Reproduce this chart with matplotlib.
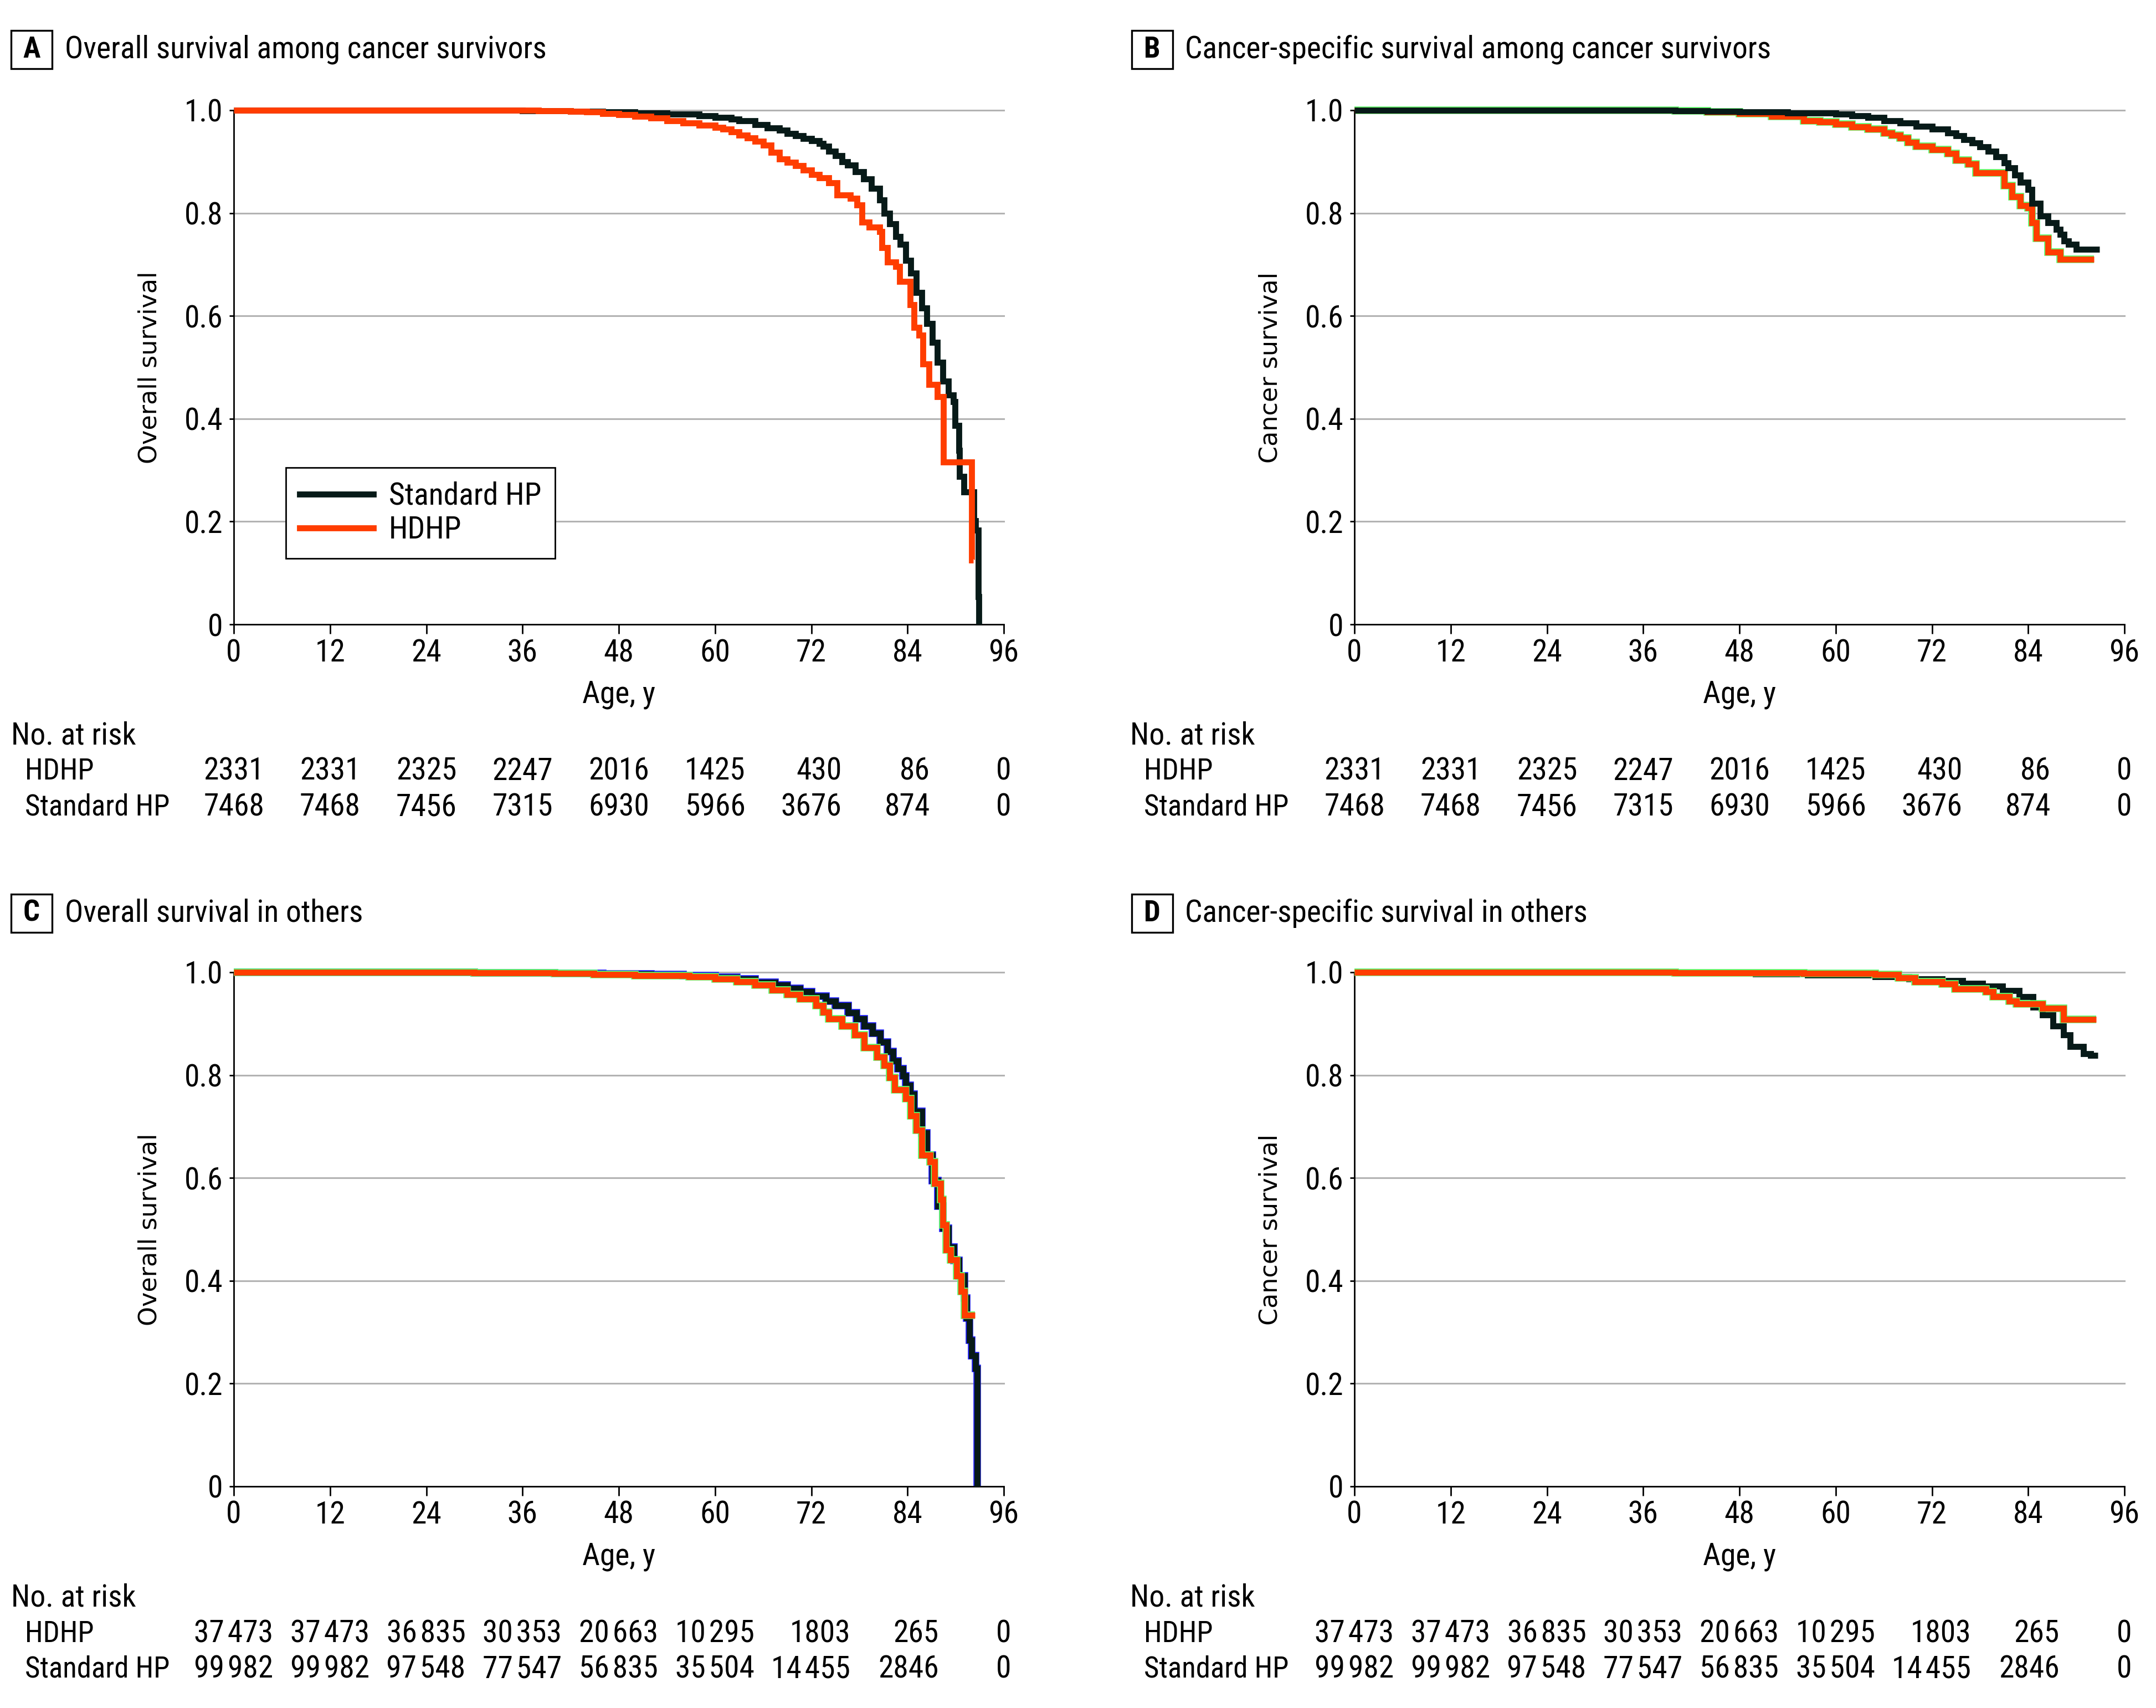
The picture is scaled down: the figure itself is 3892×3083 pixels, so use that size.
import matplotlib
matplotlib.use('Agg')
import matplotlib.pyplot as plt
import matplotlib.transforms as mtransforms
from matplotlib.patches import Rectangle
from matplotlib.lines import Line2D
from matplotlib import font_manager

# ---- data ----
risk_ages = [0, 12, 24, 36, 48, 60, 72, 84, 96]

# cancer survivors (panels A and B)
surv_hdhp_risk = [2331, 2331, 2325, 2247, 2016, 1425, 430, 86, 0]
surv_std_risk = [7468, 7468, 7456, 7315, 6930, 5966, 3676, 874, 0]
# others (panels C and D)
oth_hdhp_risk = [37473, 37473, 36835, 30353, 20663, 10295, 1803, 265, 0]
oth_std_risk = [99982, 99982, 97548, 77547, 56835, 35504, 14455, 2846, 0]

# A: overall survival among cancer survivors
a_std_age = [0, 36, 42, 46, 50, 54, 58, 60, 62, 63, 65, 66.5, 68, 69, 70, 71, 72, 73, 73.5,
             74.2, 75, 75.8, 76.5, 77.5, 78.5, 79.5, 80.5, 81.1, 81.8, 82.5, 83.1, 83.8, 84.4,
             85.1, 85.8, 86.4, 87.1, 87.7, 88.4, 89.1, 89.7, 89.9, 90.4, 90.5, 91.0, 92.3,
             92.5, 92.8, 92.9]
a_std_surv = [1.0, 0.999, 0.998, 0.997, 0.995, 0.992, 0.989, 0.986, 0.983, 0.980, 0.972, 0.966,
              0.961, 0.955, 0.950, 0.945, 0.941, 0.935, 0.930, 0.920, 0.912, 0.900, 0.893, 0.880,
              0.866, 0.848, 0.825, 0.800, 0.779, 0.754, 0.739, 0.708, 0.683, 0.646, 0.615, 0.585,
              0.548, 0.510, 0.473, 0.446, 0.433, 0.387, 0.338, 0.288, 0.258, 0.202, 0.183, 0.054,
              0.0]
a_hdhp_age = [0, 38, 42, 44, 46, 48, 50, 52, 54, 56, 58, 60, 61, 62, 63, 64, 65, 66, 67, 68,
              69, 70, 71, 72, 73, 74.2, 75.2, 76.9, 77.7, 78.3, 79.2, 80.5, 80.8, 81.5, 82.5,
              83.0, 84.3, 84.8, 85.4, 85.9, 86.7, 87.7, 88.5, 92.0, 92.2]
a_hdhp_surv = [1.0, 0.999, 0.998, 0.997, 0.994, 0.991, 0.988, 0.985, 0.980, 0.975, 0.971, 0.967,
               0.963, 0.958, 0.952, 0.946, 0.940, 0.932, 0.918, 0.905, 0.899, 0.892, 0.884,
               0.875, 0.869, 0.859, 0.835, 0.829, 0.816, 0.782, 0.773, 0.764, 0.733, 0.705,
               0.696, 0.667, 0.622, 0.578, 0.563, 0.507, 0.467, 0.443, 0.316, 0.125, 0.125]

# B: cancer-specific survival among cancer survivors
b_std_age = [0, 40, 44, 48, 54, 60, 62, 64, 66, 68, 70, 72, 74, 75, 76, 77, 78, 79, 80, 81,
             81.5, 82.3, 83, 84, 84.5, 85.5, 86.5, 87.5, 88, 88.5, 89, 90, 92.9]
b_std_surv = [1.0, 0.999, 0.998, 0.997, 0.995, 0.992, 0.989, 0.986, 0.980, 0.975, 0.969, 0.963,
              0.956, 0.950, 0.943, 0.936, 0.929, 0.920, 0.909, 0.898, 0.888, 0.874, 0.860,
              0.846, 0.819, 0.794, 0.781, 0.768, 0.759, 0.746, 0.739, 0.730, 0.730]
b_hdhp_age = [0, 40, 44, 48, 52, 56, 58, 60, 62, 64, 66, 67, 68, 69, 70, 72, 74, 75, 76.5,
              77.5, 81, 82, 83, 84, 84.5, 85, 86.5, 88, 92.2]
b_hdhp_surv = [1.0, 0.999, 0.997, 0.993, 0.988, 0.980, 0.977, 0.973, 0.968, 0.963, 0.956,
               0.951, 0.946, 0.938, 0.930, 0.923, 0.916, 0.903, 0.896, 0.878, 0.853, 0.832,
               0.815, 0.810, 0.781, 0.751, 0.724, 0.710, 0.710]

# C: overall survival in others
c_std_age = [0, 30, 40, 46, 52, 56, 60, 62.7, 65, 67.5, 69, 70.6, 72, 73.8, 75, 76.6, 77.6,
             78.6, 79.6, 80.6, 81.5, 82.2, 82.8, 83.4, 83.8, 84.3, 84.8, 85.8, 86.4, 87.1, 87.8,
             88.4, 89.1, 89.8, 90.4, 91.1, 91.4, 91.7, 92.0, 92.5, 92.7]
c_std_surv = [1.0, 0.999, 0.998, 0.997, 0.996, 0.993, 0.990, 0.987, 0.981, 0.975, 0.969, 0.962,
              0.954, 0.944, 0.935, 0.921, 0.909, 0.896, 0.881, 0.864, 0.846, 0.828, 0.812,
              0.799, 0.780, 0.763, 0.730, 0.687, 0.644, 0.595, 0.545, 0.502, 0.465, 0.440,
              0.409, 0.366, 0.328, 0.285, 0.254, 0.230, 0.0]
c_hdhp_age = [0, 30, 40, 44.9, 50, 56.8, 60, 62.7, 65, 67.1, 69, 70.6, 72.6, 73.5, 74.2, 75.8,
              77.4, 78.6, 80.2, 81.1, 81.8, 82.4, 83.8, 84.4, 85.1, 85.8, 86.8, 87.4, 88.1,
              88.4, 88.8, 89.4, 90.1, 90.7, 91.1, 92.4]
c_hdhp_surv = [1.0, 0.999, 0.998, 0.996, 0.994, 0.991, 0.987, 0.982, 0.975, 0.966, 0.957,
               0.948, 0.935, 0.922, 0.910, 0.896, 0.878, 0.853, 0.835, 0.819, 0.795, 0.772,
               0.754, 0.721, 0.693, 0.644, 0.632, 0.589, 0.558, 0.509, 0.460, 0.441, 0.410,
               0.379, 0.333, 0.333]

# D: cancer-specific survival in others
d_std_age = [0, 40, 50, 56.5, 64.9, 69.1, 73.3, 75.8, 78.3, 80.8, 82.9, 84.6, 85.8, 87.1, 88.4,
             89.2, 90.9, 91.8, 92.7]
d_std_surv = [1.0, 0.999, 0.997, 0.995, 0.991, 0.987, 0.984, 0.978, 0.973, 0.964, 0.953, 0.932,
              0.917, 0.896, 0.878, 0.856, 0.842, 0.838, 0.838]
d_hdhp_age = [0, 40, 56, 64.9, 67.8, 69.9, 73.3, 74.9, 78.7, 79.6, 81.6, 82.5, 85.8, 88.4, 92.5]
d_hdhp_surv = [1.0, 0.999, 0.998, 0.996, 0.989, 0.982, 0.977, 0.968, 0.962, 0.953, 0.944,
               0.939, 0.930, 0.908, 0.908]

# ---- styling ----
avail = {f.name for f in font_manager.fontManager.ttflist}
narrow = next((n for n in ['Liberation Sans Narrow', 'Roboto Condensed', 'Open Sans Condensed']
               if n in avail), None)
if narrow:
    plt.rcParams['font.family'] = [narrow, 'DejaVu Sans']
    fs = 20
else:
    plt.rcParams['font.family'] = ['DejaVu Sans']
    fs = 16

BLACK = '#071a18'
ORANGE = '#ff3d00'
GREEN = '#5dfc6a'
BLUE = '#2020ff'
GRID = '#b3b3b3'
LW = 3.9

W, H = 3892, 3083
fig = plt.figure(figsize=(W / 200, H / 200), dpi=200)


def fx(px):
    return px / W


def fy(py):
    return 1 - py / H


panels = [
    dict(tag='A', title='Overall survival among cancer survivors', ylabel='Overall survival',
         x0=422, ytop=199, std=(a_std_age, a_std_surv), hdhp=(a_hdhp_age, a_hdhp_surv),
         std_edge=None, hdhp_edge=None, black_top=False, legend=True,
         risk=(surv_hdhp_risk, surv_std_risk), box_x=20, text_x=117, title_y=89,
         tab_x=20, rows_y=(1328, 1392, 1457), num_off=3.8),
    dict(tag='B', title='Cancer-specific survival among cancer survivors', ylabel='Cancer survival',
         x0=2445, ytop=199, std=(b_std_age, b_std_surv), hdhp=(b_hdhp_age, b_hdhp_surv),
         std_edge=None, hdhp_edge=GREEN, black_top=True, legend=False,
         risk=(surv_hdhp_risk, surv_std_risk), box_x=2043, text_x=2139, title_y=89,
         tab_x=2040, rows_y=(1328, 1392, 1457), num_off=3.8),
    dict(tag='C', title='Overall survival in others', ylabel='Overall survival',
         x0=422, ytop=1755, std=(c_std_age, c_std_surv), hdhp=(c_hdhp_age, c_hdhp_surv),
         std_edge=BLUE, hdhp_edge=GREEN, black_top=False, legend=False,
         risk=(oth_hdhp_risk, oth_std_risk), box_x=20, text_x=117, title_y=1648,
         tab_x=20, rows_y=(2884, 2949, 3013), num_off=4.9),
    dict(tag='D', title='Cancer-specific survival in others', ylabel='Cancer survival',
         x0=2445, ytop=1755, std=(d_std_age, d_std_surv), hdhp=(d_hdhp_age, d_hdhp_surv),
         std_edge=None, hdhp_edge=GREEN, black_top=False, legend=False,
         risk=(oth_hdhp_risk, oth_std_risk), box_x=2043, text_x=2139, title_y=1648,
         tab_x=2040, rows_y=(2884, 2949, 3013), num_off=4.9),
]

AX_W, AX_H = 1390, 928


def fmt(n):
    return f'{n:,}'.replace(',', '\u200a') if n >= 10000 else str(n)


for p in panels:
    ax = fig.add_axes([fx(p['x0']), fy(p['ytop'] + AX_H), AX_W / W, AX_H / H])
    ax.set_xlim(0, 96)
    ax.set_ylim(0, 1.0)
    ax.set_xticks(risk_ages)
    ax.set_yticks([0, 0.2, 0.4, 0.6, 0.8, 1.0])
    ax.set_yticklabels(['0', '0.2', '0.4', '0.6', '0.8', '1.0'])
    for y in [0.2, 0.4, 0.6, 0.8, 1.0]:
        ax.axhline(y, color=GRID, lw=1.1, zorder=0, clip_on=False)
    for s in ['top', 'right']:
        ax.spines[s].set_visible(False)
    for s in ['left', 'bottom']:
        ax.spines[s].set_linewidth(1.0)
        ax.spines[s].set_color('black')
    ax.tick_params(axis='x', length=6, width=1.0, pad=3, labelsize=fs)
    ax.tick_params(axis='y', length=3, width=1.0, pad=4, labelsize=fs)

    z_std, z_hdhp = (4, 3) if p['black_top'] else (3, 4)
    common = dict(where='post', clip_on=False, solid_joinstyle='miter', solid_capstyle='butt')
    if p['std_edge']:
        ax.step(*p['std'], color=p['std_edge'], lw=LW + 1.0, zorder=z_std - 0.5, **common)
    ax.step(*p['std'], color=BLACK, lw=LW, zorder=z_std, label='Standard HP', **common)
    if p['hdhp_edge']:
        ax.step(*p['hdhp'], color=p['hdhp_edge'], lw=LW + 1.0, zorder=z_hdhp - 0.5, **common)
    ax.step(*p['hdhp'], color=ORANGE, lw=LW, zorder=z_hdhp, label='HDHP', **common)

    ax.set_ylabel(p['ylabel'], fontsize=fs - 4, family='DejaVu Sans')
    ax.yaxis.set_label_coords(-0.094, 0.5)
    ax.text(0.5, -0.136, 'Age, y', transform=ax.transAxes, ha='center', va='center', fontsize=fs)

    if p['legend']:
        handles = [Line2D([], [], color=BLACK, lw=LW), Line2D([], [], color=ORANGE, lw=LW)]
        leg = ax.legend(handles, ['Standard HP', 'HDHP'], loc='upper left',
                        bbox_to_anchor=(0.0676, 0.305), borderaxespad=0, fontsize=fs,
                        handlelength=2.4, handletextpad=0.5, borderpad=0.45, labelspacing=0.15,
                        fancybox=False, framealpha=1, edgecolor='black')
        leg.get_frame().set_linewidth(1.0)

    # panel tag and title
    fig.add_artist(Rectangle((fx(p['box_x']), fy(p['title_y'] + 35)), 74 / W, 69 / H,
                             transform=fig.transFigure, fill=False, ec='black', lw=1.2))
    fig.text(fx(p['box_x'] + 37), fy(p['title_y']), p['tag'], ha='center', va='center',
             fontsize=fs - 1, fontweight='bold')
    fig.text(fx(p['text_x']), fy(p['title_y']), p['title'], ha='left', va='center', fontsize=fs)

    # number at risk table
    y_head, y_h, y_s = p['rows_y']
    fig.text(fx(p['tab_x']), fy(y_head), 'No. at risk', ha='left', va='center', fontsize=fs)
    fig.text(fx(p['tab_x'] + 25), fy(y_h), 'HDHP', ha='left', va='center', fontsize=fs - 1)
    fig.text(fx(p['tab_x'] + 25), fy(y_s), 'Standard HP', ha='left', va='center', fontsize=fs - 1)
    trans = mtransforms.blended_transform_factory(ax.transData, fig.transFigure)
    hd, st = p['risk']
    for i, age in enumerate(risk_ages):
        last = i == len(risk_ages) - 1
        off = p['num_off'] - (1.0 if i == len(risk_ages) - 2 else 0.0)
        xpos = age if last else age + off
        ha = 'center' if last else 'right'
        ax.text(xpos, fy(y_h), fmt(hd[i]), transform=trans, ha=ha, va='center', fontsize=fs,
                clip_on=False)
        ax.text(xpos, fy(y_s), fmt(st[i]), transform=trans, ha=ha, va='center', fontsize=fs,
                clip_on=False)

fig.savefig('out.png', dpi=200, facecolor='white')
